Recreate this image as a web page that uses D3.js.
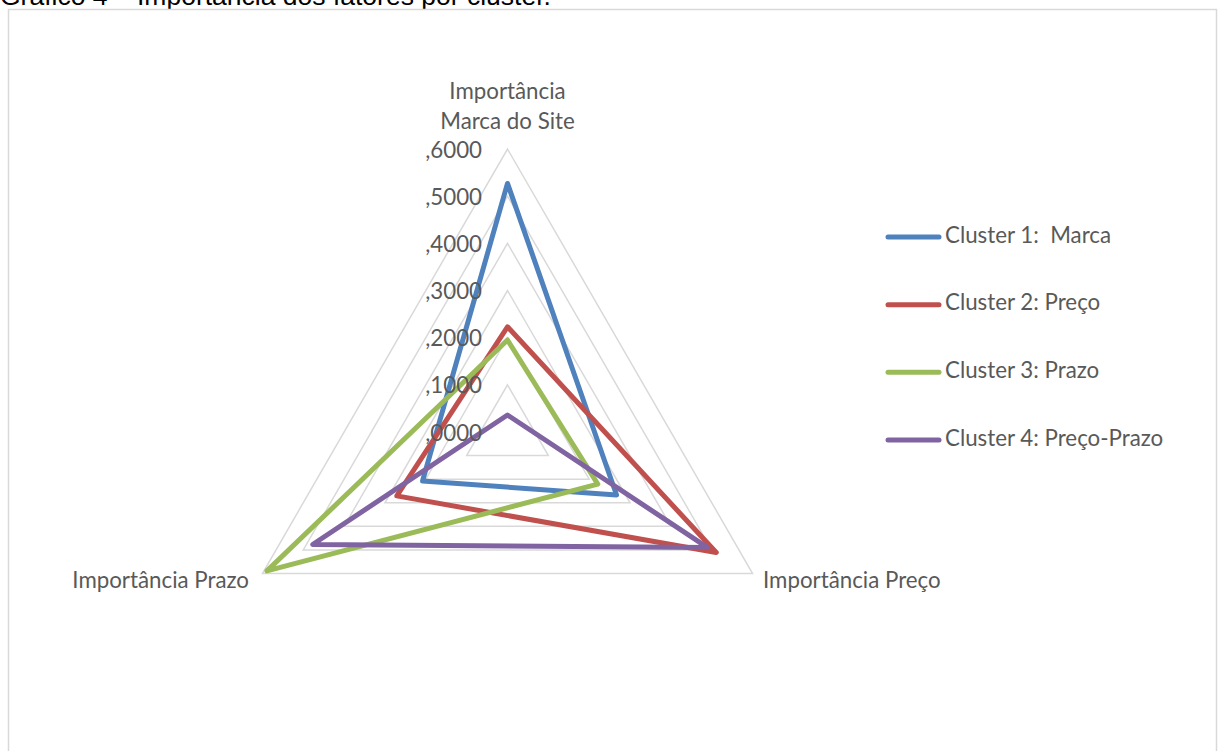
<!DOCTYPE html>
<html>
<head>
<meta charset="utf-8">
<script src="https://cdn.jsdelivr.net/npm/d3@7"></script>
<style>
  html, body { margin: 0; padding: 0; background: #fff; }
  svg { display: block; }
</style>
</head>
<body>
<svg id="chart" width="1218" height="751"></svg>
<script>
const axes = ["Importância\nMarca do Site", "Importância Preço", "Importância Prazo"];
const seriesNames = ["Cluster 1:  Marca", "Cluster 2: Preço", "Cluster 3: Prazo", "Cluster 4: Preço-Prazo"];
const cluster1 = [0.527, 0.267, 0.208];
const cluster2 = [0.223, 0.511, 0.271];
const cluster3 = [0.195, 0.221, 0.589];
const cluster4 = [0.036, 0.490, 0.477];
const tickValues = [0, 0.1, 0.2, 0.3, 0.4, 0.5, 0.6];
const tickLabels = [",0000", ",1000", ",2000", ",3000", ",4000", ",5000", ",6000"];
const colors = ["#4F81BD", "#C0504D", "#9BBB59", "#8064A2"];
const titleText = "Gráfico 4 – Importância dos fatores por cluster.";

const series = [cluster1, cluster2, cluster3, cluster4];
const svg = d3.select("#chart");
const cx = 507.5, cy = 432;
const r = d3.scaleLinear().domain([0, 0.6]).range([0, 283]);
const angle = d3.scaleOrdinal().domain(d3.range(axes.length)).range(d3.range(axes.length).map(i => -Math.PI / 2 + i * 2 * Math.PI / axes.length));
const pt = (i, v) => [cx + r(v) * Math.cos(angle(i)), cy + r(v) * Math.sin(angle(i))];

// title (clipped at top like reference)
svg.append("text").attr("x", 0).attr("y", 5)
  .attr("font-family", "Liberation Sans, Arial, sans-serif").attr("font-size", 26.5)
  .attr("fill", "#000").text(titleText);

// chart border
svg.append("rect").attr("x", 8.5).attr("y", 9.5).attr("width", 1208).attr("height", 760)
  .attr("fill", "#fff").attr("stroke", "#d9d9d9").attr("stroke-width", 1.5);

const FONT = "Lato, 'Open Sans', sans-serif";
const TXT = "#595959";
const FS = 22.3;

// grid rings
const g = svg.append("g");
tickValues.filter(v => v > 0).forEach(v => {
  g.append("path")
    .attr("d", d3.line()(d3.range(axes.length).map(i => pt(i, v))) + "Z")
    .attr("fill", "none").attr("stroke", "#d9d9d9").attr("stroke-width", 1.5);
});

// series
const lineGen = d3.line();
series.forEach((s, k) => {
  svg.append("path")
    .attr("d", lineGen(s.map((v, i) => pt(i, v))) + "Z")
    .attr("fill", "none").attr("stroke", colors[k]).attr("stroke-width", 5)
    .attr("stroke-linejoin", "round");
});

// tick labels
tickValues.forEach((v, i) => {
  svg.append("text")
    .attr("x", 482).attr("y", cy - r(v) + 3)
    .attr("text-anchor", "end").attr("dominant-baseline", "middle")
    .attr("font-family", FONT).attr("font-size", FS).attr("fill", TXT)
    .text(tickLabels[i]);
});

// axis labels
const topLines = axes[0].split("\n");
topLines.forEach((t, j) => {
  svg.append("text").attr("x", cx).attr("y", 93 + j * 30)
    .attr("text-anchor", "middle").attr("dominant-baseline", "middle")
    .attr("font-family", FONT).attr("font-size", FS).attr("fill", TXT).text(t);
});
svg.append("text").attr("x", 763).attr("y", 588)
  .attr("text-anchor", "start")
  .attr("font-family", FONT).attr("font-size", FS).attr("fill", TXT).text(axes[1]);
svg.append("text").attr("x", 249).attr("y", 588)
  .attr("text-anchor", "end")
  .attr("font-family", FONT).attr("font-size", FS).attr("fill", TXT).text(axes[2]);

// legend
const legendY = d3.scalePoint().domain(seriesNames).range([237, 440]);
seriesNames.forEach((name, k) => {
  const y = legendY(name);
  svg.append("line").attr("x1", 888).attr("x2", 939).attr("y1", y).attr("y2", y)
    .attr("stroke", colors[k]).attr("stroke-width", 5).attr("stroke-linecap", "round");
  svg.append("text").attr("x", 945).attr("y", y)
    .attr("dominant-baseline", "middle")
    .attr("font-family", FONT).attr("font-size", FS).attr("fill", TXT)
    .attr("xml:space", "preserve").style("white-space", "pre").text(name);
});
</script>
</body>
</html>
